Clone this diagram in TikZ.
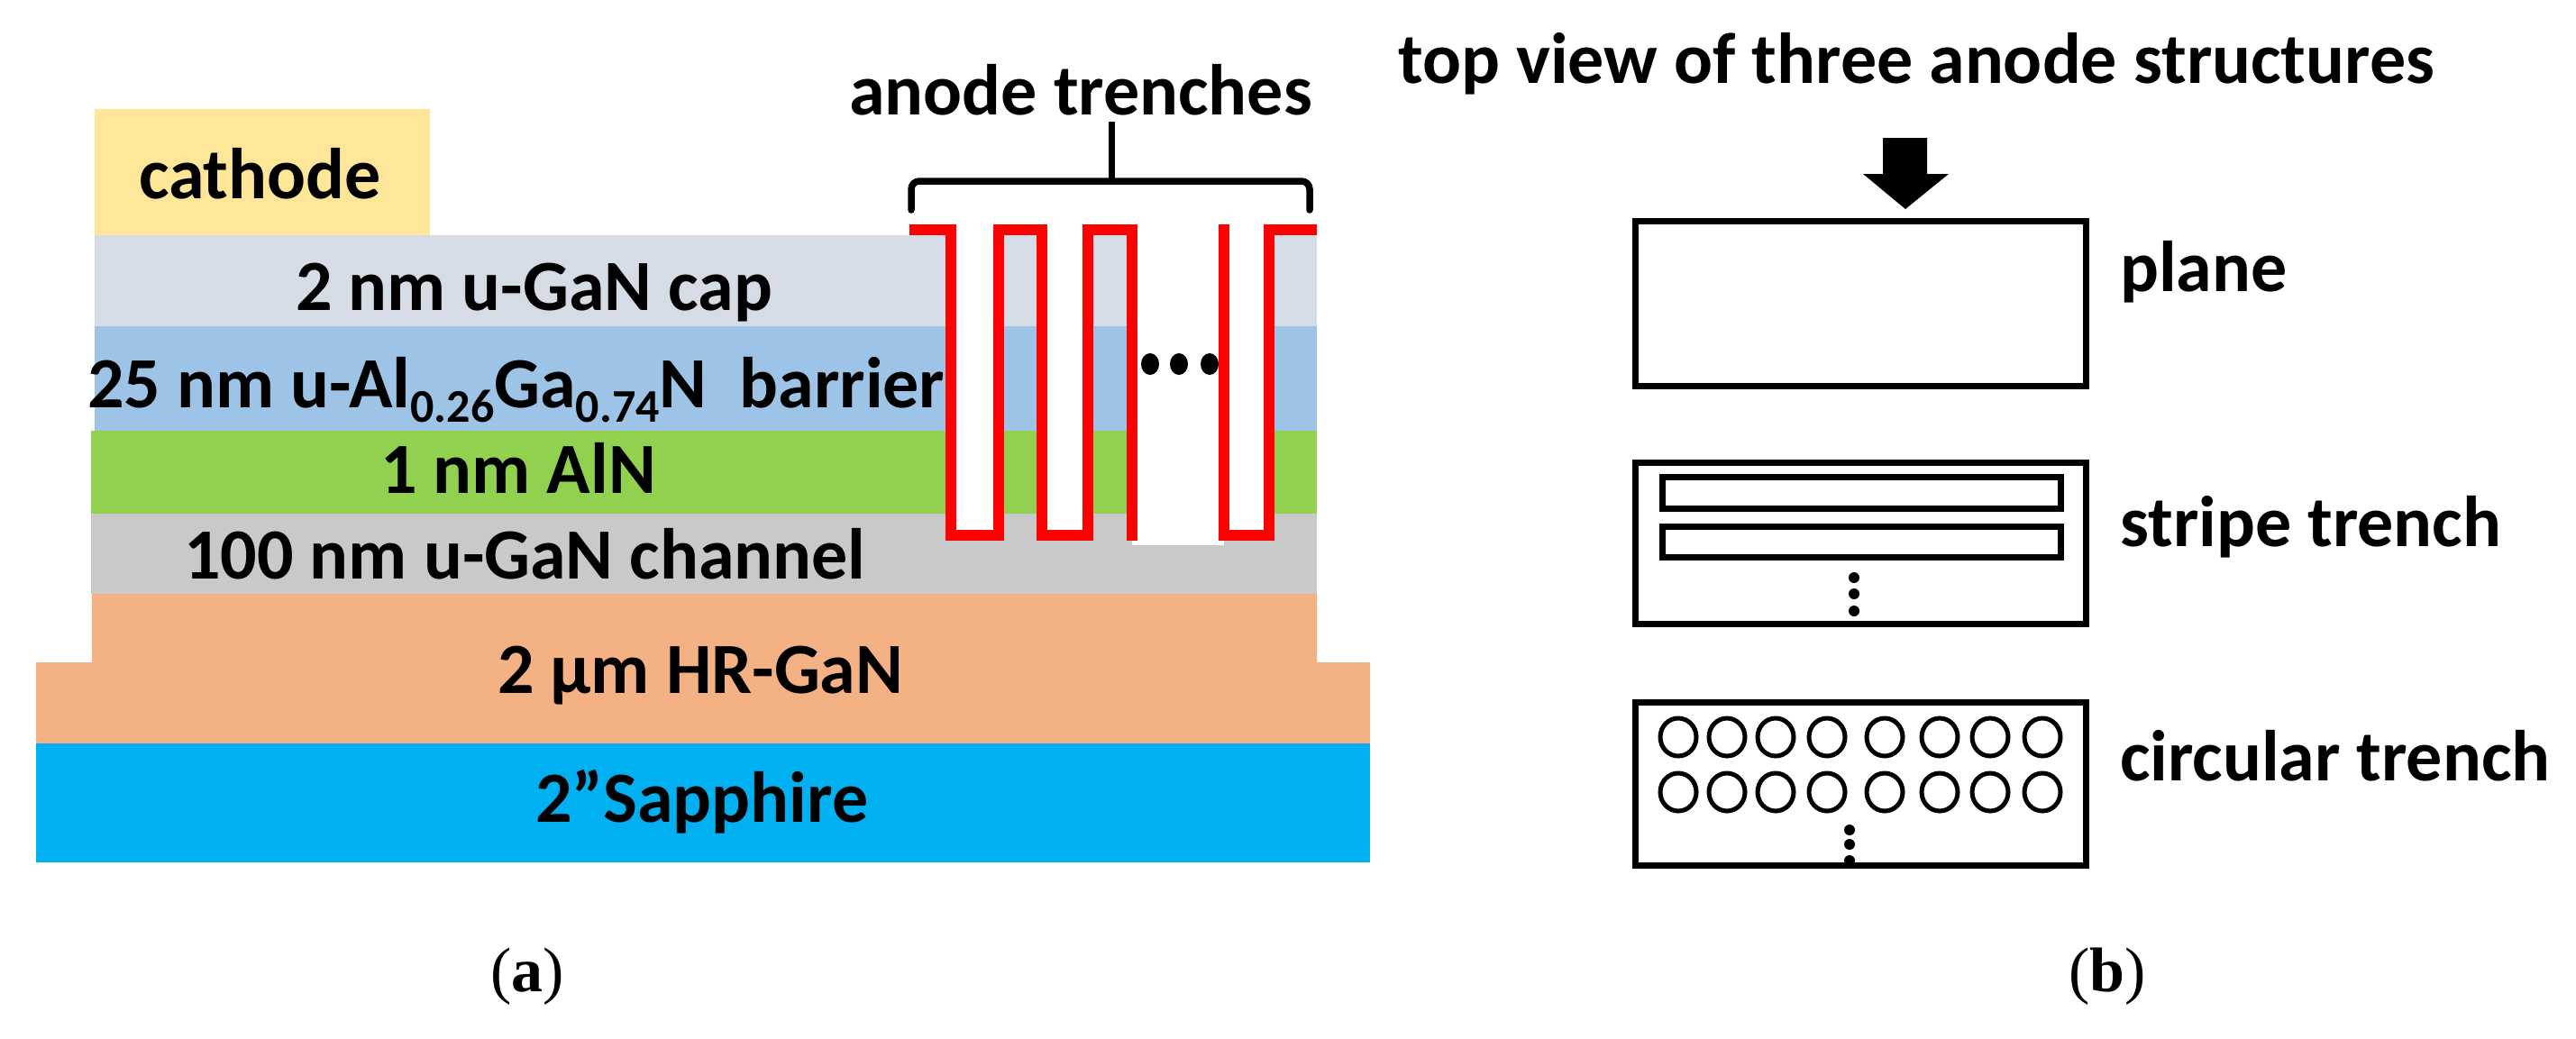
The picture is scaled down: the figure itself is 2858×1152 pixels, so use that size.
\documentclass[tikz,border=0pt]{standalone}
\usepackage{fontspec}
\setmainfont{Carlito}[BoldFont={Carlito Bold}]
\newfontfamily\capfont{Liberation Serif}
\definecolor{cathodeC}{HTML}{FFE699}
\definecolor{capC}{HTML}{D6DCE5}
\definecolor{barrierC}{HTML}{9DC3E6}
\definecolor{alnC}{HTML}{92D050}
\definecolor{chanC}{HTML}{C9C9C9}
\definecolor{hrC}{HTML}{F4B183}
\definecolor{sapC}{HTML}{00B0F0}
\newcommand{\lowdigits}[1]{\raisebox{-16pt}[0pt][0pt]{\fontsize{52}{54}\selectfont #1}}
\tikzset{
  lbl/.style={anchor=base west,inner sep=0pt,font=\fontsize{80}{82}\selectfont\bfseries},
  figcap/.style={anchor=base west,inner sep=0pt,font=\capfont\fontsize{70}{72}\selectfont},
  redline/.style={draw=red,line width=12pt,miter limit=10},
  topbox/.style={draw=black,line width=7pt,fill=white},
  ring/.style={draw=black,line width=5pt},
  gap/.style={fill=white,draw=none}
}
\begin{document}
\begin{tikzpicture}[x=1pt,y=-1pt]
\useasboundingbox (0,0) rectangle (2858,1152);
\fill[white] (0,0) rectangle (2858,1152);
% layers
\fill[cathodeC] (105,121) rectangle (477,261);
\fill[capC] (105,261) rectangle (1461,362);
\fill[barrierC] (105,362) rectangle (1461,478);
\fill[alnC] (101,478) rectangle (1461,570);
\fill[chanC] (101,570) rectangle (1461,659);
\fill[hrC] (102,659) -- (1461,659) -- (1461,735) -- (1520,735) -- (1520,825) -- (40,825) -- (40,735) -- (102,735) -- cycle;
\fill[sapC] (40,825) rectangle (1520,957);
% layer text
\node[lbl] (tcath) at (154,220) {cathode};
\node[lbl] (tcap) at (328,344) {2 nm u-GaN cap};
\node[lbl] (tbar) at (97,452) {25 nm u-Al\lowdigits{0.26}Ga\lowdigits{0.74}N~ barrier};
\node[lbl] (taln) at (422,547) {1 nm AlN};
\node[lbl] (tchan) at (204,642) {100 nm u-GaN channel};
\node[lbl] (thr) at (552,769) {2 µm HR-GaN};
\node[lbl] (tsap) at (594,912) {2”Sapphire};
% trench openings
\fill[gap] (1055,240) rectangle (1108,594);
\fill[gap] (1156,240) rectangle (1207,594);
\fill[gap] (1256,240) rectangle (1358,605);
\fill[gap] (1358,240) rectangle (1408,594);
% red outline
\draw[redline] (1009,255) -- (1055,255) -- (1055,594) -- (1108,594) -- (1108,255) -- (1156,255) -- (1156,594) -- (1207,594) -- (1207,255) -- (1256,255) -- (1256,600);
\draw[redline] (1358,249) -- (1358,594) -- (1408,594) -- (1408,255) -- (1461,255);
\fill (1276,404) ellipse (10 and 12);
\fill (1308,404) ellipse (10 and 12);
\fill (1342,404) ellipse (10 and 12);
% brace
\node[lbl] (tano) at (942,127) {anode trenches};
\coordinate (brL) at (1011,233);
\coordinate (brR) at (1453,233);
\coordinate (brT) at (1233,135);
\coordinate (brM) at (1233,201);
\draw[line width=7.5pt,line cap=round,rounded corners=9pt] (brL) |- (brM) -| (brR);
\draw[line width=7pt] (brM) -- (brT);
% right panel
\node[lbl] (ttop) at (1551,92) {top view of three anode structures};
\fill (2089,153) -- (2138,153) -- (2138,193) -- (2162,193) -- (2114,232) -- (2067,193) -- (2089,193) -- cycle;
\draw[topbox] (1814,245) rectangle (2314,428);
\node[lbl] (tpl) at (2352,323) {plane};
\draw[topbox] (1814,513) rectangle (2314,692);
\draw[topbox] (1844,529) rectangle (2286,564);
\draw[topbox] (1844,584) rectangle (2286,618);
\foreach \yy in {641,659,678} \fill (2057,\yy) circle (6);
\node[lbl] (tstr) at (2352,606) {stripe trench};
\draw[topbox] (1814,779) rectangle (2314,960);
\foreach \xx in {1862,1916,1970,2027,2091,2152,2208,2266} {
  \draw[ring] (\xx,818) ellipse (20 and 21);
  \draw[ring] (\xx,879) ellipse (20 and 21);
}
\foreach \yy in {921,937,955} \fill (2052,\yy) circle (6);
\node[lbl] (tcir) at (2352,866) {circular trench};
% captions
\node[figcap] (capa) at (544,1100) {(\textbf{a})};
\node[figcap] (capb) at (2295,1100) {(\textbf{b})};
\end{tikzpicture}
\end{document}
